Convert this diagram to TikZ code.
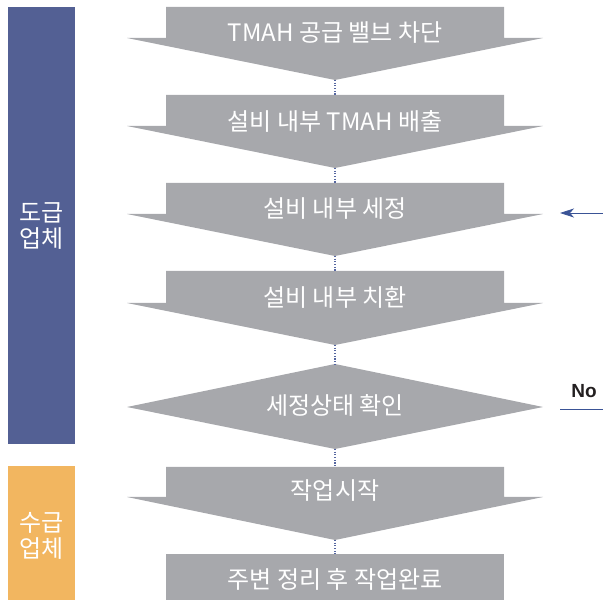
\documentclass[tikz,border=0pt]{standalone}
\usepackage{fontspec}
\setmainfont{Liberation Sans}
\newfontfamily\kr{Noto Sans CJK KR}
\usetikzlibrary{arrows.meta}
\definecolor{shapegray}{HTML}{A7A8AC}
\definecolor{barblue}{HTML}{536094}
\definecolor{barorange}{HTML}{F2B660}
\definecolor{arrowblue}{HTML}{3A5396}
\definecolor{dotblue}{HTML}{5566A0}
\definecolor{notext}{HTML}{231F20}
\tikzset{
  stepshape/.style={fill=shapegray, draw=none},
  steptext/.style={text=white, font=\kr\fontsize{24}{26}\selectfont, inner sep=0pt},
  bartext/.style={text=white, font=\kr\fontsize{24}{26}\selectfont, align=center, inner sep=0pt},
  link/.style={dotblue, line width=1.1pt, dash pattern=on 1.1pt off 1.6pt},
}
\begin{document}
\begin{tikzpicture}[x=1pt,y=-1pt]
\useasboundingbox (0,0) rectangle (603,601);
% side bars
\fill[barblue] (8,7) rectangle (75,444);
\fill[barorange] (8,466) rectangle (75,600);
\node[bartext] (contractor) at (41.5,226) {도급\\업체};
\node[bartext] (supplier) at (41.5,536) {수급\\업체};
% arrow-shaped steps: top, wing y, tip y
\foreach \t/\w/\p/\n in {7/38/80/s1, 95/126/168/s2, 183/214/256/s3, 271/303/345/s4, 467/497/540/s6}{
  \fill[stepshape] (166,\t) -- (504,\t) -- (504,\w) -- (543,\w) -- (335,\p) -- (127,\w) -- (166,\w) -- cycle;
  \coordinate (\n top) at (335,\t);
  \coordinate (\n tip) at (335,\p);
}
% diamond
\fill[stepshape] (335,364) -- (543,407) -- (335,449) -- (127,407) -- cycle;
\coordinate (s5top) at (335,364);
\coordinate (s5tip) at (335,449);
% final box
\fill[stepshape] (166,554) rectangle (504,600);
\coordinate (s7top) at (335,554);
% texts
\node[steptext] (t1) at (335,33) {TMAH 공급 밸브 차단};
\node[steptext] (t2) at (335,121) {설비 내부 TMAH 배출};
\node[steptext] (t3) at (335,209) {설비 내부 세정};
\node[steptext] (t4) at (335,297) {설비 내부 치환};
\node[steptext] (t5) at (335,405) {세정상태 확인};
\node[steptext] (t6) at (335,491) {작업시작};
\node[steptext] (t7) at (335,579) {주변 정리 후 작업완료};
% dotted links
\draw[link] (s1tip) -- (s2top);
\draw[link] (s2tip) -- (s3top);
\draw[link] (s3tip) -- (s4top);
\draw[link] (s4tip) -- (s5top);
\draw[link] (s5tip) -- (s6top);
\draw[link] (s6tip) -- (s7top);
% right side
\coordinate (retin) at (603,213);
\coordinate (rethead) at (560,213);
\draw[arrowblue, line width=0.8pt, -{Stealth[length=14pt,width=9pt,inset=4pt]}] (retin) -- (rethead);
\node[text=notext, font=\bfseries\fontsize{19}{21}\selectfont, inner sep=0pt] (no) at (584,391) {No};
\coordinate (noa) at (560,409);
\coordinate (nob) at (603,409);
\draw[arrowblue, line width=0.8pt] (noa) -- (nob);
\end{tikzpicture}
\end{document}
